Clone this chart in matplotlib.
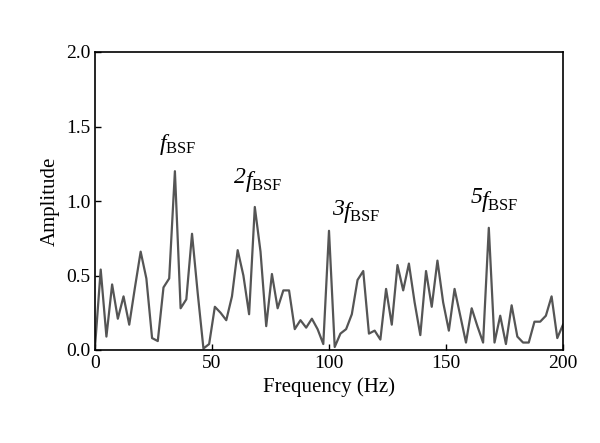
import numpy as np
import matplotlib
matplotlib.use("Agg")
import matplotlib.pyplot as plt

amp = [0.02,0.54,0.09,0.44,0.21,0.36,0.17,0.42,0.66,0.48,0.08,0.06,0.42,0.48,1.20,0.28,0.34,0.78,0.38,0.01,
       0.04,0.29,0.25,0.20,0.36,0.67,0.50,0.24,0.96,0.66,0.16,0.51,0.28,0.40,0.40,0.14,0.20,0.15,0.21,0.14,0.04,
       0.80,
       0.02,0.11,0.14,0.24,0.47,0.53,0.11,0.13,0.07,0.41,0.17,0.57,0.40,0.58,0.32,0.10,0.53,0.29,0.60,0.32,
       0.13,0.41,0.23,0.05,0.28,0.16,0.05,0.82,0.05,0.23,0.04,0.30,0.09,0.05,0.05,0.19,0.19,0.23,0.36,0.08,0.17]
freq = np.linspace(0, 200, len(amp))
# (left x of f, y, harmonic prefix)
labels = [(27.5, 1.38, ""), (64, 1.13, "2"), (106, 0.92, "3"), (165, 1.00, "5")]

plt.rcParams['font.family'] = ['Liberation Serif']
plt.rcParams['mathtext.fontset'] = 'custom'
plt.rcParams['mathtext.it'] = 'Liberation Serif:italic'
plt.rcParams['mathtext.rm'] = 'Liberation Serif'

fig = plt.figure(figsize=(6, 4.43), dpi=100)
ax = fig.add_axes([95/600, 1-350/443, 468/600, 298/443])
ax.plot(freq, amp, color='#555555', lw=1.6)
ax.set_xlim(0, 200)
ax.set_ylim(0, 2.0)
ax.set_xticks([0, 50, 100, 150, 200])
ax.set_yticks([0, 0.5, 1.0, 1.5, 2.0])
ax.set_yticklabels(["0.0", "0.5", "1.0", "1.5", "2.0"])
ax.tick_params(labelsize=14, direction='in', length=4, width=1)
for s in ax.spines.values():
    s.set_linewidth(1.2)
ax.set_xlabel("Frequency (Hz)", fontsize=15)
ax.set_ylabel("Amplitude", fontsize=15)
for x, y, p in labels:
    ax.text(x, y, r"$f_{\mathrm{BSF}}$", fontsize=17, ha='left', va='center')
    if p:
        ax.text(x + 0.5, y + 0.025, p, fontsize=17, ha='right', va='center', style='italic')
fig.savefig("out.png", dpi=100)
